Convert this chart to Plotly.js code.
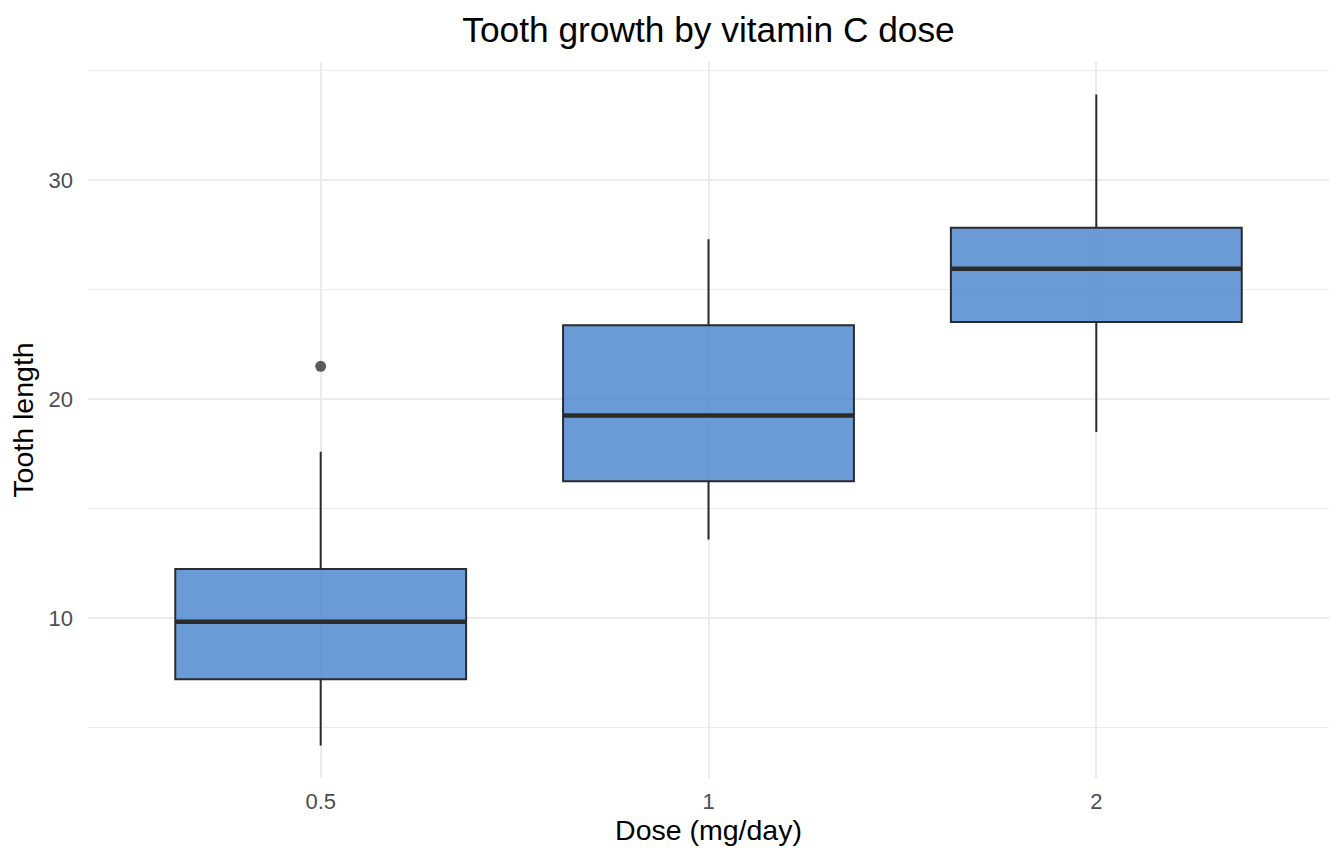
<!DOCTYPE html>
<html>
<head>
<meta charset="utf-8">
<script src="https://cdn.plot.ly/plotly-3.0.1.min.js"></script>
<style>html,body{margin:0;padding:0;background:#fff;}#chart{width:1344px;height:864px;}</style>
</head>
<body>
<div id="chart"></div>
<script>
// ToothGrowth summary by dose (ggplot-style type-7 quartiles)
const doses = ['0.5', '1', '2'];
const q1 = [7.225, 16.25, 23.525];
const medians = [9.85, 19.25, 25.95];
const q3 = [12.25, 23.375, 27.825];
const lowerWhisker = [4.2, 13.6, 18.5];
const upperWhisker = [17.6, 27.3, 33.9];
const outlierDose = ['0.5'];
const outlierLen = [21.5];

const pos = doses.map((d, i) => i);
const halfW = 0.375;

const boxTrace = {
  type: 'box',
  x: pos,
  q1: q1,
  median: medians,
  q3: q3,
  lowerfence: lowerWhisker,
  upperfence: upperWhisker,
  width: 0.75,
  whiskerwidth: 0,
  boxpoints: false,
  fillcolor: 'rgba(70,130,205,0.8)',
  line: {color: '#2b2b2b', width: 2},
  hoverinfo: 'skip',
  showlegend: false
};

const medX = [], medY = [];
medians.forEach((m, i) => {
  medX.push(pos[i] - halfW, pos[i] + halfW, null);
  medY.push(m, m, null);
});
const medianTrace = {
  type: 'scatter', mode: 'lines', x: medX, y: medY,
  line: {color: '#2b2b2b', width: 4.5},
  hoverinfo: 'skip', showlegend: false
};

const outTrace = {
  type: 'scatter', mode: 'markers',
  x: outlierDose.map(d => doses.indexOf(d)),
  y: outlierLen,
  marker: {color: 'rgba(51,51,51,0.8)', size: 11, line: {width: 0}},
  hoverinfo: 'skip', showlegend: false
};

const layout = {
  width: 1344, height: 864,
  paper_bgcolor: '#fff', plot_bgcolor: '#fff',
  margin: {l: 88, r: 15, t: 62, b: 86},
  font: {family: 'Liberation Sans, Arial, sans-serif', color: '#000'},
  title: {text: 'Tooth growth by vitamin C dose', xref: 'paper', x: 0.5, xanchor: 'center', yref: 'container', y: 0.966, yanchor: 'middle', font: {size: 35.3, color: '#000'}},
  xaxis: {
    range: [-0.6, 2.6], tickvals: pos, ticktext: doses,
    showgrid: true, gridcolor: '#ebebeb', gridwidth: 2,
    zeroline: false, showline: false, ticks: '',
    ticklabelstandoff: 8,
    tickfont: {size: 22, color: '#4d4d4d'},
    title: {text: 'Dose (mg/day)', font: {size: 28.5, color: '#000'}, standoff: 4}
  },
  yaxis: {
    range: [2.715, 35.385], tickvals: [10, 20, 30],
    showgrid: true, gridcolor: '#ebebeb', gridwidth: 2,
    minor: {tickvals: [5, 15, 25, 35], showgrid: true, gridcolor: '#ebebeb', gridwidth: 1, ticks: ''},
    zeroline: false, showline: false, ticks: '',
    ticklabelstandoff: 14,
    tickfont: {size: 22, color: '#4d4d4d'},
    title: {text: 'Tooth length', font: {size: 28.5, color: '#000'}, standoff: 6}
  }
};

Plotly.newPlot('chart', [boxTrace, medianTrace, outTrace], layout, {displayModeBar: false, staticPlot: true});
</script>
</body>
</html>
